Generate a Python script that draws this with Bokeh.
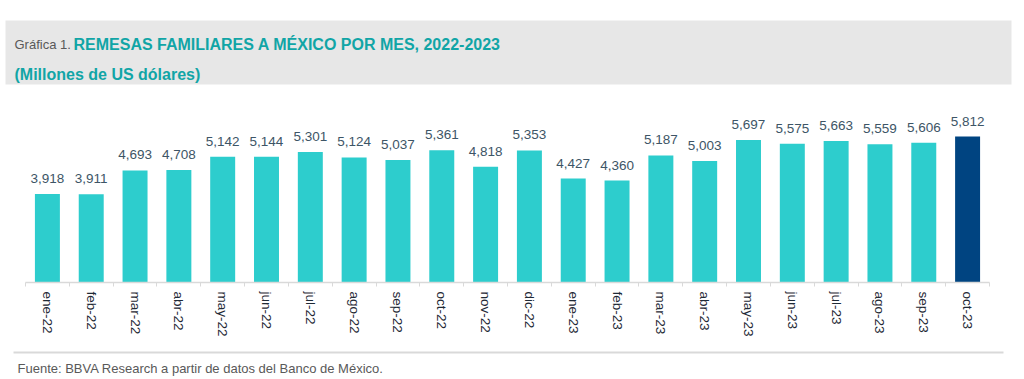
from bokeh.plotting import figure
from bokeh.models import ColumnDataSource, Range1d, FixedTicker, LinearAxis, LabelSet, Label
from bokeh.core.properties import value
from bokeh.layouts import column
from bokeh.embed import file_html
from bokeh.resources import INLINE

months = ["ene-22", "feb-22", "mar-22", "abr-22", "may-22", "jun-22", "jul-22",
          "ago-22", "sep-22", "oct-22", "nov-22", "dic-22", "ene-23", "feb-23",
          "mar-23", "abr-23", "may-23", "jun-23", "jul-23", "ago-23", "sep-23", "oct-23"]
remesas = [3918, 3911, 4693, 4708, 5142, 5144, 5301, 5124, 5037, 5361, 4818, 5353,
           4427, 4360, 5187, 5003, 5697, 5575, 5663, 5559, 5606, 5812]

TEAL = "#2dcdcd"
NAVY = "#004481"
TITLE_C = "#11a5a6"
FONT = "Liberation Sans"
W = 1016

n = len(remesas)
idx = list(range(n))
src = ColumnDataSource(dict(
    x=idx,
    top=remesas,
    color=[TEAL] * (n - 1) + [NAVY],
    lab=[f"{v:,}" for v in remesas],
))

# ---------- header ----------
HH = 88
h = figure(width=W, height=HH, output_backend="svg", toolbar_location=None,
           x_range=Range1d(0, W), y_range=Range1d(HH, 0),
           min_border=0, x_axis_location=None, y_axis_location=None)
h.outline_line_color = None
h.grid.visible = False
h.quad(left=5, right=1011, top=20, bottom=84, fill_color="#e7e7e7", line_color=None)
h.add_layout(Label(x=14, y=43.5, text="Gráfica 1.", text_font=FONT, text_font_size="13px",
                   text_color="#595959", text_baseline="alphabetic"))
h.add_layout(Label(x=73, y=43.5, text="REMESAS FAMILIARES A MÉXICO POR MES, 2022-2023",
                   text_font=FONT, text_font_size="16px", text_font_style="bold",
                   text_color=TITLE_C, text_baseline="alphabetic"))
h.add_layout(Label(x=14, y=73.5, text="(Millones de US dólares)",
                   text_font=FONT, text_font_size="16px", text_font_style="bold",
                   text_color=TITLE_C, text_baseline="alphabetic"))

# ---------- main chart ----------
AX_L, AX_R = 25, 989          # axis extent in pixels
ppu = (AX_R - AX_L) / n       # pixels per category
x0 = -0.5 - AX_L / ppu
x1 = n - 0.5 + (W - AX_R) / ppu
p = figure(width=W, height=257, output_backend="svg", toolbar_location=None,
           x_range=Range1d(x0, x1), y_range=Range1d(1000, 7000),
           min_border_top=12, min_border_bottom=63, min_border_left=0, min_border_right=0,
           x_axis_location=None, y_axis_location=None)
p.outline_line_color = None
p.grid.visible = False
p.vbar(x="x", top="top", bottom=1000, width=0.57, fill_color="color", line_color=None, source=src)
p.add_layout(LabelSet(x="x", y="top", text="lab", source=src, y_offset=11,
                      text_align="center", text_baseline="alphabetic",
                      text_font=value(FONT), text_font_size=value("13.5px"),
                      text_color=value("#3d5566")))

ax = LinearAxis(ticker=FixedTicker(ticks=idx, minor_ticks=[i - 0.5 for i in range(n + 1)]),
                bounds=(-0.5, n - 0.5))
ax.major_label_overrides = {i: m for i, m in zip(idx, months)}
ax.major_label_orientation = "vertical"
ax.major_tick_out = 0
ax.major_tick_in = 0
ax.minor_tick_out = 4
ax.minor_tick_in = 0
ax.minor_tick_line_color = "#d9d9d9"
ax.axis_line_color = "#d9d9d9"
ax.axis_line_width = 1.5
ax.major_label_standoff = 5
ax.major_label_text_font = FONT
ax.major_label_text_font_size = "13.5px"
ax.major_label_text_color = "#1f2a36"
p.add_layout(ax, "below")

# ---------- footer ----------
FH = 34
f = figure(width=W, height=FH, output_backend="svg", toolbar_location=None,
           x_range=Range1d(0, W), y_range=Range1d(FH, 0),
           min_border=0, x_axis_location=None, y_axis_location=None)
f.outline_line_color = None
f.grid.visible = False
f.segment(x0=13, y0=7, x1=1003, y1=7, line_color="#d9d9d9", line_width=2)
f.add_layout(Label(x=17, y=22.5, text="Fuente: BBVA Research a partir de datos del Banco de México.",
                   text_font=FONT, text_font_size="13px", text_color="#595959",
                   text_baseline="alphabetic"))

lay = column(h, p, f, spacing=0)
open("out.html", "w").write(file_html(lay, INLINE))
